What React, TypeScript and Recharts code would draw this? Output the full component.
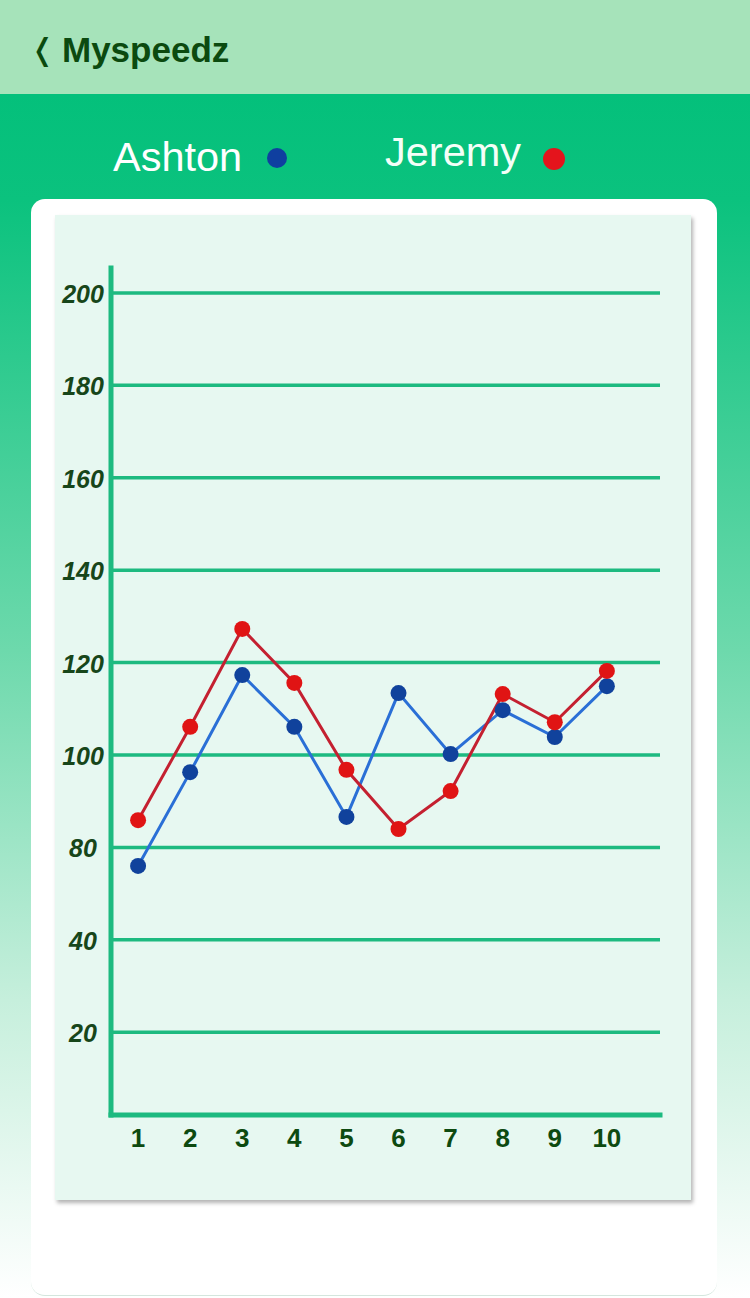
import { LineChart, Line, XAxis, YAxis, CartesianGrid } from 'recharts';

// run numbers along the x axis
const runs = [1, 2, 3, 4, 5, 6, 7, 8, 9, 10];

// speeds (plot space)
const ashton = [76, 96.3, 117.3, 106.1, 86.6, 113.4, 100.2, 109.7, 103.9, 114.9];
const jeremy = [85.9, 106.1, 127.3, 115.6, 96.8, 84, 92.2, 113.2, 107.1, 118.2];

// y gridline positions and the labels printed next to them
const yTicks = [40, 60, 80, 100, 120, 140, 160, 180, 200];
const yTickLabels = ['20', '40', '80', '100', '120', '140', '160', '180', '200'];

const seriesNames = ['Ashton', 'Jeremy'];

const GREEN = '#1dba80';

// y labels are centred in a column left of the axis
function YTick(props: any) {
  const { y, payload } = props;
  const idx = yTicks.indexOf(payload.value);
  const label = idx >= 0 ? yTickLabels[idx] : String(payload.value);
  return (
    <text
      x={83}
      y={y}
      dy={10}
      textAnchor="middle"
      fill="#17461a"
      fontSize={25}
      fontWeight={700}
      fontStyle="italic"
    >
      {label}
    </text>
  );
}

export default function App() {
  const chartData = runs.map((run, i) => ({
    run,
    ashton: ashton[i],
    jeremy: jeremy[i],
  }));

  return (
    <div
      style={{
        position: 'fixed',
        left: 0,
        top: 0,
        width: 750,
        height: 1298,
        overflow: 'hidden',
        fontFamily: '"Liberation Sans", Arial, sans-serif',
        background: 'linear-gradient(180deg, #04c07b 94px, #0bc27e 200px, #6dd9ac 650px, #c6efdc 1000px, #ffffff 1298px)',
      }}
    >
      {/* header bar */}
      <div
        style={{
          position: 'absolute',
          left: 0,
          top: 0,
          width: 750,
          height: 94,
          background: '#a6e3ba',
        }}
      >
        <span
          style={{
            position: 'absolute',
            left: 30,
            top: 33,
            fontSize: 30,
            fontFamily: '"DejaVu Sans", sans-serif',
            fontWeight: 700,
            color: '#0b4a0f',
            lineHeight: '34px',
          }}
        >
          ❬
        </span>
        <span
          style={{
            position: 'absolute',
            left: 62,
            top: 30,
            fontSize: 35,
            fontWeight: 700,
            color: '#0b4a0f',
            lineHeight: '40px',
          }}
        >
          Myspeedz
        </span>
      </div>

      {/* legend */}
      <div style={{ position: 'absolute', left: 113, top: 134, fontSize: 41.5, color: '#ffffff', lineHeight: '46px' }}>
        {seriesNames[0]}
      </div>
      <div style={{ position: 'absolute', left: 267, top: 148, width: 20, height: 20, borderRadius: 10, background: '#0f3fa0' }} />
      <div style={{ position: 'absolute', left: 385, top: 129, fontSize: 41.5, color: '#f4fff8', lineHeight: '46px' }}>
        {seriesNames[1]}
      </div>
      <div style={{ position: 'absolute', left: 543, top: 148, width: 22, height: 22, borderRadius: 11, background: '#e4141c' }} />

      {/* white card */}
      <div
        style={{
          position: 'absolute',
          left: 31,
          top: 199,
          width: 686,
          height: 1096,
          background: '#ffffff',
          borderRadius: 14,
          borderBottom: '1px solid #d4e6dd',
        }}
      />
      {/* mint panel */}
      <div
        style={{
          position: 'absolute',
          left: 55,
          top: 215,
          width: 636,
          height: 985,
          background: '#e7f8f1',
          boxShadow: '2px 3px 4px rgba(0,0,0,0.3)',
        }}
      />

      <div style={{ position: 'absolute', left: 0, top: 0 }}>
        <LineChart
          width={750}
          height={1298}
          data={chartData}
          margin={{ top: 268, right: 90, left: 51, bottom: 153 }}
        >
          <CartesianGrid
            vertical={false}
            stroke={GREEN}
            strokeWidth={3.5}
            horizontalValues={yTicks}
          />
          <XAxis
            dataKey="run"
            type="number"
            domain={[0.48, 11.02]}
            ticks={runs}
            height={30}
            tickLine={false}
            tickMargin={8}
            axisLine={{ stroke: GREEN, strokeWidth: 5, strokeLinecap: 'square' }}
            tick={{ fill: '#0d4a10', fontSize: 26, fontWeight: 700 }}
            interval={0}
            allowDataOverflow
          />
          <YAxis
            type="number"
            domain={[22.1, 205.4]}
            ticks={yTicks}
            width={60}
            tickLine={false}
            axisLine={{ stroke: GREEN, strokeWidth: 5, strokeLinecap: 'square' }}
            tick={<YTick />}
            interval={0}
            allowDataOverflow
          />
          <Line
            type="linear"
            dataKey="ashton"
            name={seriesNames[0]}
            stroke="#2a6fd6"
            strokeWidth={3}
            dot={{ r: 8, fill: '#10429c', stroke: 'none' }}
            isAnimationActive={false}
          />
          <Line
            type="linear"
            dataKey="jeremy"
            name={seriesNames[1]}
            stroke="#c42030"
            strokeWidth={3}
            dot={{ r: 8, fill: '#e01414', stroke: 'none' }}
            isAnimationActive={false}
          />
        </LineChart>
      </div>
    </div>
  );
}
